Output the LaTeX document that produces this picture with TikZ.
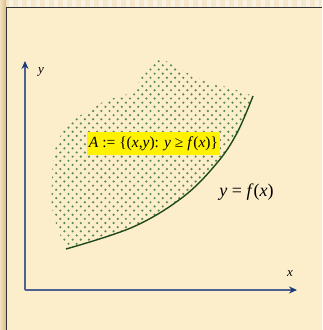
\documentclass[tikz,border=0pt]{standalone}
\usepackage{fontspec}
\setmainfont{Liberation Serif}
\usetikzlibrary{arrows.meta}
\definecolor{crema}{HTML}{FCEECB}
\definecolor{oro}{HTML}{E6C98A}
\definecolor{azul}{HTML}{4F6190}
\definecolor{marino}{HTML}{1B3A7A}
\definecolor{verde}{HTML}{1E4A1E}
\definecolor{punto}{HTML}{5A8A4C}

\begin{document}
\begin{tikzpicture}[x=1pt,y=-1pt,
  eje/.style={azul,line width=1.6pt,-{Stealth[length=8pt,width=7pt,color=marino]}},
  etiq/.style={font=\itshape\fontsize{13}{13}\selectfont,inner sep=0pt}]
  \useasboundingbox (0,0) rectangle (322,330);
  \fill[oro!45] (0,0) rectangle (322,7);
  \foreach \i in {0,9,...,320} { \fill[oro!25] (\i,0) rectangle ++(4,7); }
  \shade[left color=oro!55,right color=oro!95!black] (0,0) rectangle (6,330);
  \fill[crema] (7,8) rectangle (322,330);
  \draw[black!80,line width=1.5pt] (6.5,330) |- (322,7.5);
  \begin{scope}
    \clip plot[smooth,tension=0.6] coordinates {(253,96) (233,89) (200,79) (175,66) (162,60) (150,65) (140,80) (133,92) (117,97) (93,107) (67,127) (55,150) (52,180) (53,213) (66,249)}
      -- plot[smooth,tension=0.6] coordinates {(66,249) (133,227) (183,197) (217,163) (237,133) (253,96)} -- cycle;
    \foreach \j in {0,...,50} {
      \pgfmathsetmacro\off{mod(\j,2)*4.1}
      \foreach \k in {0,...,26} { \fill[punto] (48+\off+8.2*\k,57+4.15*\j) circle (1.2); }
    }
  \end{scope}
  \draw[verde,line width=1.4pt] plot[smooth,tension=0.6] coordinates {(66,249) (133,227) (183,197) (217,163) (237,133) (253,96)};
  \coordinate (O) at (25,290);
  \coordinate (ex) at (297,290);
  \coordinate (ey) at (25,61);
  \draw[eje] (O) -- (ex);
  \draw[eje] (O) -- (ey);
  \node[etiq] (ly) at (41,72) {y};
  \node[etiq] (lx) at (290,274) {x};
  \node[fill=yellow,inner xsep=2pt,minimum height=23pt,font=\fontsize{15.5}{16}\selectfont] (conj) at (153.5,143.5)
    {\textit{A} := \{(\textit{x},\textit{y}): \textit{y} ≥ \textit{f}(\textit{x})\}};
  \node[font=\fontsize{18}{18}\selectfont] (fx) at (246.5,192) {\textit{y} = \textit{f}(\textit{x})};
\end{tikzpicture}
\end{document}
